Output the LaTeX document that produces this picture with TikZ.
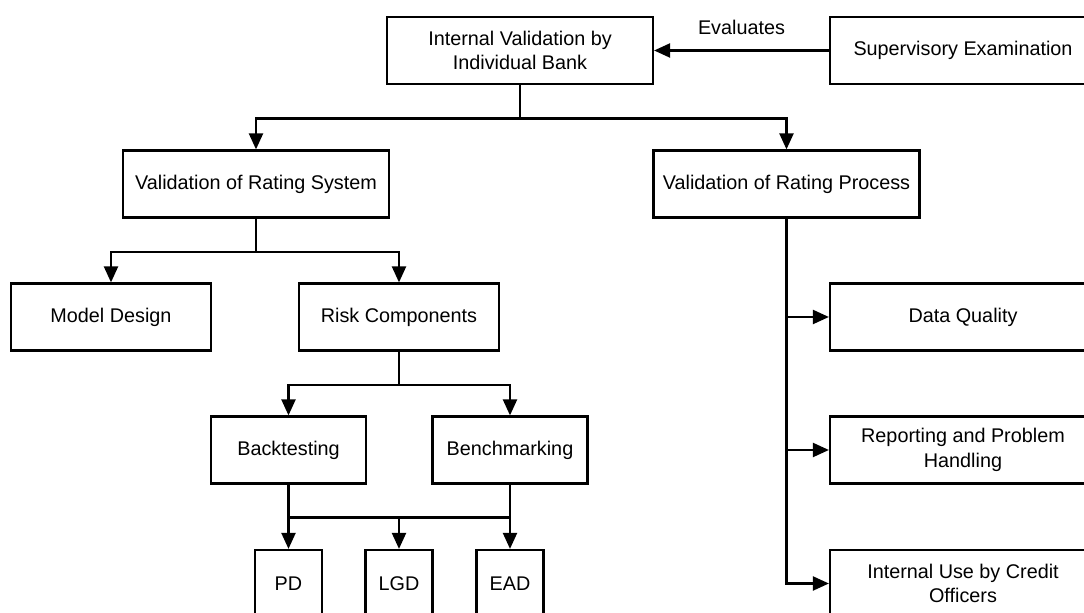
\documentclass[tikz,border=0pt]{standalone}
\usepackage{fontspec}
\setmainfont{Liberation Sans}
\usetikzlibrary{arrows.meta, positioning, calc}

\begin{document}
\begin{tikzpicture}[
    x=0.5pt, y=-0.5pt,
    line width=1.1pt,
    % Styles
    box/.style={rectangle, draw=black, fill=white, minimum width=133pt, minimum height=33.5pt, align=center, inner sep=2pt,
        font=\fontsize{9.9pt}{12.4pt}\selectfont},
    midbox/.style={box, minimum width=100pt},
    testbox/.style={box, minimum width=77.5pt},
    parambox/.style={box, minimum width=33.5pt},
    arrow/.style={-{Triangle[length=8pt, width=7pt]}},
    link/.style={-},
    label/.style={font=\fontsize{9.9pt}{12.4pt}\selectfont, inner sep=0pt}
]
    \useasboundingbox (0,0) rectangle (1084,613);
    \clip (0,0) rectangle (1084,613);

    % Top level
    \node[box] (internal) at (520,50.5) {Internal Validation by\\Individual Bank};
    \node[box] (supervisory) at (963,50.5) {Supervisory Examination};

    % Second level
    \node[box] (ratingsystem) at (256,184) {Validation of Rating System};
    \node[box] (ratingprocess) at (786.5,184) {Validation of Rating Process};

    % Rating system branch
    \node[midbox] (modeldesign) at (111,317) {Model Design};
    \node[midbox] (riskcomp) at (399,317) {Risk Components};
    \node[testbox] (backtest) at (288.5,450) {Backtesting};
    \node[testbox] (benchmark) at (510,450) {Benchmarking};
    \node[parambox] (pd) at (288.5,583.5) {PD};
    \node[parambox] (lgd) at (399,583.5) {LGD};
    \node[parambox] (ead) at (510,583.5) {EAD};

    % Rating process branch
    \node[box] (dataquality) at (963,317) {Data Quality};
    \node[box] (reporting) at (963,450) {Reporting and Problem\\Handling};
    \node[box] (internaluse) at (963,583.5) {Internal Use by Credit\\Officers};

    % Arrows
    \draw[arrow] (supervisory.west) -- node[label, midway, yshift=11.75pt] {Evaluates} (internal.east);

    \draw[link] (internal.south) -- ++(0,33.5) coordinate (split1);
    \draw[arrow] (split1) -| (ratingsystem.north);
    \draw[arrow] (split1) -| (ratingprocess.north);

    \draw[link] (ratingsystem.south) -- ++(0,33.5) coordinate (split2);
    \draw[arrow] (split2) -| (modeldesign.north);
    \draw[arrow] (split2) -| (riskcomp.north);

    \draw[link] (riskcomp.south) -- ++(0,33.5) coordinate (split3);
    \draw[arrow] (split3) -| (backtest.north);
    \draw[arrow] (split3) -| (benchmark.north);

    \draw[link] (backtest.south) -- ++(0,33) coordinate (split4);
    \draw[link] (benchmark.south) |- (split4);
    \draw[arrow] (split4) -- (pd.north);
    \draw[arrow] (lgd.north |- split4) -- (lgd.north);
    \draw[arrow] (ead.north |- split4) -- (ead.north);

    \draw[arrow] (ratingprocess.south) |- (internaluse.west);
    \draw[arrow] (ratingprocess.south |- dataquality.west) -- (dataquality.west);
    \draw[arrow] (ratingprocess.south |- reporting.west) -- (reporting.west);
\end{tikzpicture}
\end{document}
